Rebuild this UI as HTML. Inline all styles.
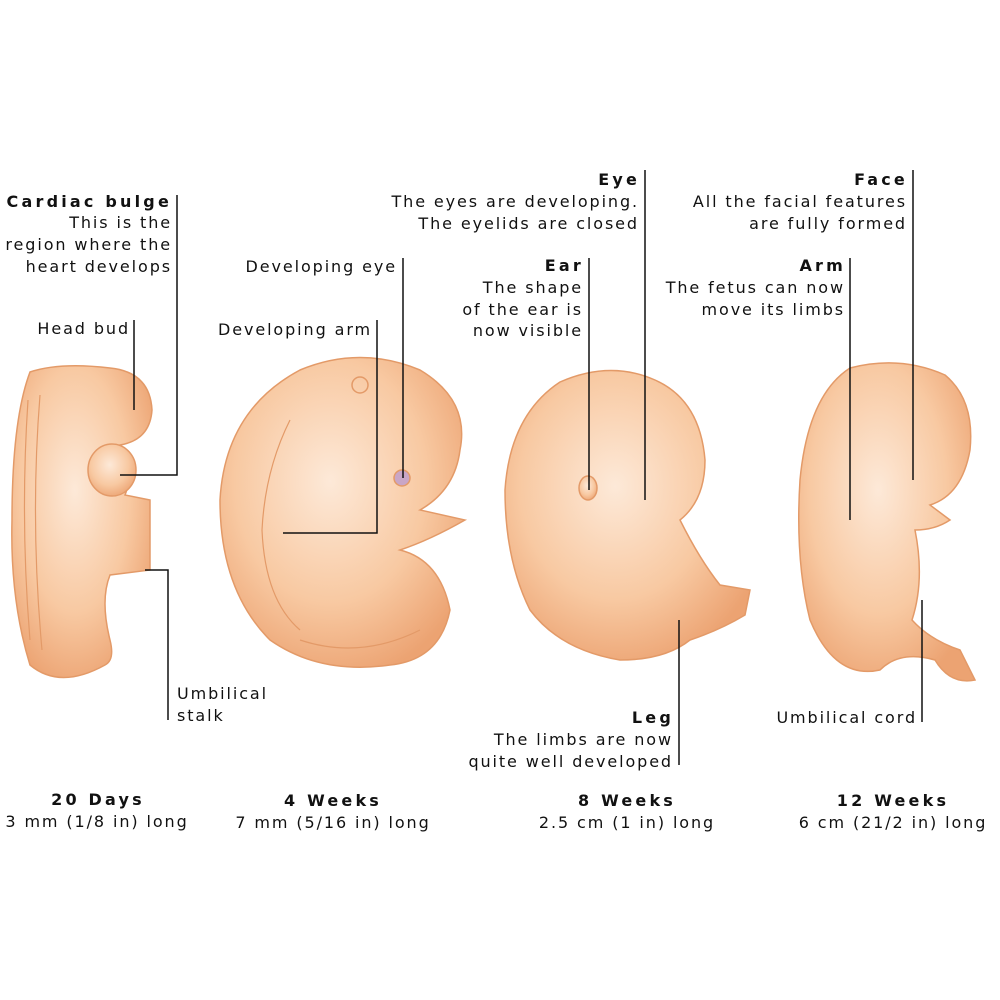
<!DOCTYPE html>
<html><head><meta charset="utf-8"><style>
html,body{margin:0;padding:0;background:#fff}
svg{display:block}
text{font-family:"DejaVu Sans","Liberation Sans",sans-serif;font-size:16px;fill:#111;letter-spacing:1.9px}
.b{font-weight:bold;letter-spacing:3.2px}
</style></head><body>
<svg width="1000" height="1000" viewBox="0 0 1000 1000" xmlns="http://www.w3.org/2000/svg">
<defs>
<radialGradient id="g" cx="45%" cy="40%" r="65%">
<stop offset="0" stop-color="#fde9d8"/><stop offset="0.6" stop-color="#f8c9a2"/><stop offset="1" stop-color="#eca372"/>
</radialGradient>
</defs>
<g fill="url(#g)" stroke="#e39a68" stroke-width="1.5">
<path d="M30 372 Q60 362 110 368 Q150 372 152 410 Q150 440 120 445 Q135 470 125 495 L150 500 L150 570 L110 575 Q100 600 110 640 Q115 660 105 665 Q60 690 30 665 Q10 600 12 520 Q12 420 30 372Z"/>
<ellipse cx="112" cy="470" rx="24" ry="26"/>
<path d="M300 370 Q360 345 420 370 Q470 400 460 450 Q455 490 420 510 L465 520 Q430 540 400 550 Q440 560 450 610 Q440 660 390 665 Q320 675 270 640 Q220 590 220 500 Q225 410 300 370Z"/>
<circle cx="402" cy="478" r="8" fill="#c9a6c6"/>
<circle cx="360" cy="385" r="8" fill="none"/>
<path d="M560 382 Q610 360 655 380 Q700 400 705 460 Q705 500 680 520 Q700 560 720 585 L750 590 L745 615 Q720 630 690 640 Q665 660 620 660 Q560 650 530 610 Q505 560 505 490 Q510 415 560 382Z"/>
<ellipse cx="588" cy="488" rx="9" ry="12"/>
<path d="M850 368 Q900 355 945 375 Q975 400 970 450 Q962 495 930 505 L950 520 Q935 530 915 530 Q925 580 912 620 Q930 640 960 650 L975 680 Q950 685 935 660 Q900 650 880 670 Q835 680 810 620 Q795 560 800 480 Q808 395 850 368Z"/>
</g>
<g fill="none" stroke="#e39a68" stroke-width="1.2">
<path d="M28 400 Q20 520 30 640"/><path d="M40 395 Q30 520 42 650"/>
<path d="M290 420 Q265 470 262 530 Q265 600 300 630"/>
<path d="M300 640 Q360 660 420 630"/>
</g>
<g stroke="#111" stroke-width="1.5" fill="none">
<path d="M177 195V475H120"/><path d="M134 320V410"/><path d="M403 258V478"/>
<path d="M377 320V533H283"/><path d="M145 570H168V720"/><path d="M645 170V500"/>
<path d="M589 258V490"/><path d="M913 170V480"/><path d="M850 258V520"/>
<path d="M679 620V765"/><path d="M922 600V722"/>
</g>
<g text-anchor="end">
<text x="172" y="207" class="b">Cardiac bulge</text>
<text x="172" y="228">This is the</text><text x="172" y="250">region where the</text><text x="172" y="272">heart develops</text>
<text x="130" y="334">Head bud</text>
<text x="397" y="272">Developing eye</text>
<text x="372" y="335">Developing arm</text>
<text x="640" y="185" class="b">Eye</text>
<text x="639" y="207">The eyes are developing.</text><text x="639" y="229">The eyelids are closed</text>
<text x="584" y="271" class="b">Ear</text>
<text x="583" y="293">The shape</text><text x="583" y="315">of the ear is</text><text x="583" y="336">now visible</text>
<text x="908" y="185" class="b">Face</text>
<text x="907" y="207">All the facial features</text><text x="907" y="229">are fully formed</text>
<text x="846" y="271" class="b">Arm</text>
<text x="845" y="293">The fetus can now</text><text x="845" y="315">move its limbs</text>
<text x="674" y="723" class="b">Leg</text>
<text x="673" y="745">The limbs are now</text><text x="673" y="767">quite well developed</text>
<text x="917" y="723">Umbilical cord</text>
</g>
<text x="177" y="699">Umbilical</text><text x="177" y="721">stalk</text>
<g text-anchor="middle">
<text x="98" y="805" class="b">20 Days</text><text x="97" y="827">3 mm (1/8 in) long</text>
<text x="333" y="806" class="b">4 Weeks</text><text x="333" y="828">7 mm (5/16 in) long</text>
<text x="627" y="806" class="b">8 Weeks</text><text x="627" y="828">2.5 cm (1 in) long</text>
<text x="893" y="806" class="b">12 Weeks</text><text x="893" y="828">6 cm (21/2 in) long</text>
</g>
</svg>
</body></html>
